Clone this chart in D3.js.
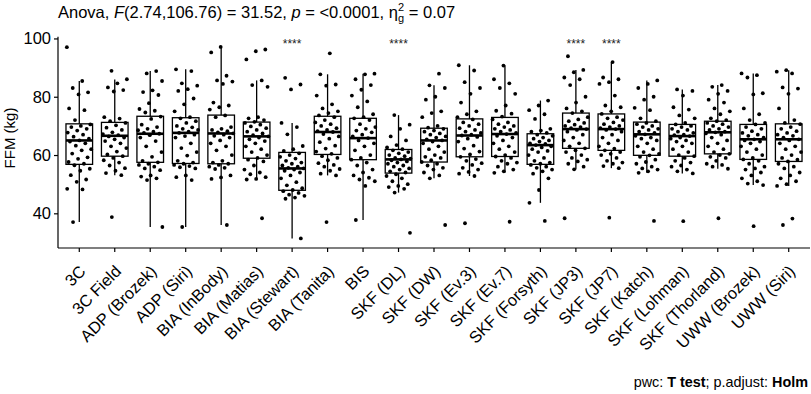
<!DOCTYPE html>
<html>
<head>
<meta charset="utf-8">
<script src="https://d3js.org/d3.v7.min.js"></script>
<style>
  body { margin: 0; background: #fff; }
  svg text { font-family: "Liberation Sans", Arial, Helvetica, sans-serif; }
</style>
</head>
<body>
<svg id="chart" width="811" height="394"></svg>
<script>
// methods on the x axis
const methods = ["3C", "3C Field", "ADP (Brozek)", "ADP (Siri)", "BIA (InBody)", "BIA (Matias)",
  "BIA (Stewart)", "BIA (Tanita)", "BIS", "SKF (DL)", "SKF (DW)", "SKF (Ev.3)", "SKF (Ev.7)",
  "SKF (Forsyth)", "SKF (JP3)", "SKF (JP7)", "SKF (Katch)", "SKF (Lohman)", "SKF (Thorland)",
  "UWW (Brozek)", "UWW (Siri)"];

// box stats (kg)
const q1s      = [56.8, 59.6, 57.5, 57.1, 57.0, 58.9, 47.9, 60.2, 58.4, 53.8, 57.6, 59.4, 59.5, 56.8, 62.3, 61.6, 59.9, 59.6, 60.4, 58.5, 57.8];
const medians  = [65.0, 66.6, 67.3, 67.6, 67.4, 66.4, 55.4, 67.9, 65.8, 58.5, 65.0, 66.7, 67.2, 63.4, 68.9, 68.9, 67.1, 66.5, 67.8, 65.4, 65.4];
const q3s      = [70.7, 71.2, 73.3, 72.8, 73.7, 71.3, 60.9, 73.3, 72.6, 61.9, 69.2, 72.4, 72.9, 67.3, 74.4, 74.1, 71.3, 70.5, 71.6, 70.5, 70.7];
const whiskLo  = [37.0, 53.1, 35.3, 35.3, 36.0, 51.6, 31.4, 53.0, 37.7, 47.1, 52.0, 52.8, 53.9, 43.6, 55.1, 55.5, 53.9, 53.7, 55.3, 49.7, 49.4];
const whiskHi  = [85.4, 85.9, 88.8, 89.4, 97.1, 85.6, 71.0, 87.7, 87.9, 73.7, 83.9, 90.8, 90.7, 78.7, 89.2, 91.9, 85.6, 82.5, 84.0, 88.0, 89.1];

// individual FFM values per method
const points = [
  [97, 85.4, 83.0, 81.5, 80.8, 76.0, 75.4, 72.0, 70.5, 70.0, 69.6, 69.0, 68.4, 67.7, 67.0, 66.3, 65.6, 65.0, 64.6, 64.0, 63.2, 62.0, 61.6, 60.5, 59.2, 58.7, 57.6, 57.0, 56.5, 55.3, 54.6, 53.1, 51.6, 50.8, 48.4, 48.2, 37.0],
  [88.9, 86.0, 84.6, 83.2, 82.3, 81.8, 73.0, 72.5, 71.6, 71.0, 70.2, 69.4, 68.6, 67.8, 67.2, 66.8, 66.4, 66.0, 65.4, 64.8, 64.0, 63.0, 62.4, 61.2, 60.2, 59.6, 59.0, 58.2, 57.4, 56.4, 55.5, 54.6, 53.8, 53.1, 38.7],
  [88.8, 88.0, 85.4, 82.2, 81.6, 80.6, 77.8, 75.8, 75.2, 74.6, 73.2, 72.4, 70.4, 69.6, 69.0, 68.5, 68.0, 67.6, 67.3, 66.8, 66.0, 64.8, 63.0, 61.0, 59.4, 58.0, 57.5, 57.0, 56.6, 56.0, 55.4, 54.8, 53.0, 52.6, 52.0, 51.4, 35.3],
  [89.4, 88.8, 84.6, 83.8, 82.6, 82.0, 79.4, 77.4, 75.0, 73.0, 72.6, 71.6, 71.0, 70.0, 69.5, 69.0, 68.6, 68.0, 67.6, 67.0, 66.5, 66.0, 64.0, 62.4, 61.0, 59.8, 58.0, 57.4, 57.0, 56.6, 56.2, 55.8, 55.4, 53.0, 52.4, 51.4, 35.3],
  [97.1, 95.2, 87.2, 85.6, 85.2, 84.4, 78.0, 77.0, 76.4, 75.6, 73.6, 73.0, 69.6, 69.0, 68.6, 68.2, 67.8, 67.4, 67.0, 66.6, 66.0, 65.0, 64.0, 63.0, 61.6, 60.0, 58.0, 57.4, 57.0, 56.6, 56.0, 55.6, 55.2, 53.0, 52.3, 51.8, 36.0],
  [96.2, 95.6, 92.8, 85.6, 84.0, 83.4, 73.0, 72.6, 72.0, 71.4, 71.0, 70.4, 69.8, 69.2, 68.6, 68.0, 67.4, 66.8, 66.4, 66.0, 65.4, 64.8, 64.0, 63.0, 62.0, 61.0, 60.0, 59.0, 58.4, 57.8, 56.4, 55.0, 54.0, 53.4, 52.4, 51.8, 51.6, 38.3],
  [86.5, 84.2, 82.5, 71.0, 69.6, 67.1, 63.1, 62.0, 61.4, 60.6, 60.0, 59.4, 58.8, 58.0, 57.4, 57.0, 56.4, 56.0, 55.6, 55.4, 55.0, 54.6, 54.0, 53.0, 52.0, 50.7, 49.6, 48.6, 48.0, 47.6, 47.0, 46.4, 46.0, 45.4, 45.0, 31.4],
  [94.9, 87.7, 84.2, 83.8, 80.4, 77.4, 76.0, 75.0, 74.4, 73.6, 73.0, 72.0, 71.2, 70.6, 70.0, 69.2, 68.6, 68.2, 67.9, 67.2, 66.4, 65.6, 64.4, 63.2, 62.2, 61.2, 60.4, 59.6, 59.0, 58.2, 57.2, 56.6, 56.0, 55.2, 54.6, 53.6, 53.0, 37.0],
  [87.9, 87.7, 86.0, 84.0, 82.4, 80.4, 78.4, 76.4, 74.0, 73.0, 72.6, 72.0, 70.6, 69.6, 69.0, 68.4, 67.8, 67.0, 66.4, 65.8, 65.0, 64.0, 63.0, 61.6, 60.0, 59.0, 58.4, 57.4, 56.4, 55.0, 54.0, 53.0, 52.2, 51.6, 51.0, 49.4, 37.7],
  [73.7, 70.4, 69.0, 66.4, 65.0, 63.4, 62.6, 62.0, 61.6, 61.0, 60.6, 60.0, 59.6, 59.0, 58.8, 58.5, 58.2, 57.8, 57.4, 57.0, 56.4, 56.0, 55.4, 55.0, 54.4, 54.0, 53.4, 52.8, 52.0, 51.0, 50.0, 49.4, 49.0, 48.4, 47.1, 33.3],
  [87.9, 83.9, 83.0, 80.0, 79.0, 75.0, 74.4, 73.0, 70.0, 69.4, 69.0, 68.4, 68.0, 67.4, 67.0, 66.4, 66.0, 65.4, 65.0, 64.6, 64.0, 63.0, 62.0, 61.0, 60.0, 59.4, 59.0, 58.2, 57.6, 57.0, 56.4, 55.6, 55.0, 54.0, 53.0, 52.0, 36.0],
  [90.8, 89.0, 85.0, 83.0, 81.0, 78.0, 75.0, 74.0, 73.0, 72.2, 71.2, 70.6, 70.0, 69.2, 68.6, 68.0, 67.6, 67.0, 66.7, 66.2, 65.6, 64.6, 63.2, 62.2, 61.2, 60.2, 59.4, 58.6, 58.0, 57.2, 56.6, 55.6, 55.0, 54.2, 53.6, 52.8, 36.6],
  [90.7, 86.0, 84.6, 83.0, 81.0, 77.0, 75.2, 74.2, 73.2, 72.2, 71.2, 70.6, 70.0, 69.6, 69.0, 68.6, 68.0, 67.6, 67.2, 66.6, 66.0, 65.0, 64.0, 63.0, 62.0, 61.0, 60.0, 59.5, 59.0, 58.0, 57.4, 57.0, 56.0, 55.0, 54.4, 53.9, 37.1],
  [78.7, 77.0, 75.4, 74.0, 72.4, 69.0, 68.4, 68.0, 67.6, 67.0, 66.6, 66.0, 65.6, 65.0, 64.6, 64.0, 63.8, 63.4, 63.0, 62.6, 62.0, 61.4, 61.0, 60.0, 59.0, 58.0, 57.4, 57.0, 56.6, 56.0, 55.6, 55.0, 54.4, 53.6, 52.0, 48.0, 43.6, 37.4],
  [93.9, 89.2, 88.4, 86.6, 86.0, 84.0, 80.0, 78.0, 76.0, 75.0, 74.4, 73.0, 72.2, 71.6, 71.0, 70.4, 70.0, 69.6, 69.2, 68.9, 68.6, 68.0, 67.0, 66.0, 65.0, 64.0, 63.0, 62.3, 61.6, 61.0, 60.0, 59.0, 58.4, 57.8, 57.0, 56.0, 55.1, 38.3],
  [91.9, 86.6, 86.0, 85.0, 84.4, 80.4, 77.0, 76.4, 75.0, 74.1, 73.0, 72.6, 72.0, 71.2, 70.6, 70.0, 69.6, 69.2, 68.9, 68.6, 68.0, 67.0, 66.0, 65.0, 64.0, 63.0, 62.2, 61.6, 61.0, 60.4, 60.0, 59.0, 58.0, 57.4, 57.0, 56.2, 55.5, 38.5],
  [85.6, 84.4, 83.0, 80.0, 79.0, 76.2, 75.4, 72.6, 71.6, 71.0, 70.6, 70.0, 69.6, 69.0, 68.6, 68.0, 67.6, 67.1, 66.6, 66.0, 65.6, 65.0, 64.0, 63.0, 62.0, 61.0, 60.4, 59.9, 59.4, 58.4, 57.6, 57.0, 56.0, 55.4, 55.0, 54.4, 53.9, 37.4],
  [82.5, 82.0, 80.4, 76.4, 75.6, 73.6, 72.6, 71.0, 70.5, 70.0, 69.6, 69.0, 68.6, 68.0, 67.6, 67.0, 66.8, 66.5, 66.0, 65.6, 65.0, 64.6, 64.0, 63.0, 62.0, 61.0, 60.0, 59.6, 59.0, 58.0, 57.4, 56.4, 56.0, 55.0, 54.4, 53.7, 37.3],
  [84.0, 83.4, 82.0, 81.0, 79.0, 78.0, 76.0, 75.0, 74.0, 72.6, 72.0, 71.6, 71.0, 70.6, 70.0, 69.6, 69.0, 68.6, 68.0, 67.8, 67.4, 67.0, 66.0, 65.0, 64.0, 63.0, 62.0, 61.0, 60.4, 60.0, 59.4, 59.0, 58.0, 57.0, 56.6, 56.0, 55.3, 38.3],
  [88.0, 87.4, 86.6, 81.2, 80.8, 76.0, 74.0, 72.0, 71.0, 70.5, 69.6, 69.0, 68.2, 67.6, 67.0, 66.6, 66.0, 65.4, 65.0, 64.6, 64.0, 63.0, 62.0, 61.0, 60.0, 59.0, 58.5, 58.0, 57.0, 56.0, 55.4, 55.0, 54.0, 53.0, 52.0, 51.0, 50.2, 49.7, 35.6],
  [89.1, 88.6, 88.0, 83.2, 82.8, 81.0, 76.0, 72.0, 71.0, 70.6, 69.6, 69.0, 68.2, 67.6, 67.0, 66.6, 66.0, 65.4, 65.0, 64.0, 63.0, 62.0, 61.0, 60.0, 59.0, 58.4, 57.8, 57.0, 56.0, 55.4, 54.0, 53.0, 52.0, 51.0, 50.0, 49.4, 38.2, 36.0]
];

// significance labels (vs reference)
const sigLabels = ["", "", "", "", "", "", "****", "", "", "****", "", "", "", "", "****", "****", "", "", "", "", ""];
const sigY = 98.2;

const yTicks = [40, 60, 80, 100];

const svg = d3.select("#chart");
const mLeft = 58, mRight = 810, mTop = 36.7, mBottom = 248;

// discrete axis with 0.6 step expansion on each side, like ggplot
const x = d3.scalePoint().domain(methods)
  .range([mLeft, mRight]).padding(0.6);
const step = x.step();
const y = d3.scaleLinear().domain([28.1, 100.6]).range([mBottom, mTop]);

const bw = step * 0.75;

// boxes
const g = svg.append("g");
methods.forEach((m, i) => {
  const cx = x(m);
  g.append("line").attr("x1", cx).attr("x2", cx)
    .attr("y1", y(whiskLo[i])).attr("y2", y(whiskHi[i]))
    .attr("stroke", "#000").attr("stroke-width", 1.3);
  g.append("rect").attr("x", cx - bw / 2).attr("width", bw)
    .attr("y", y(q3s[i])).attr("height", y(q1s[i]) - y(q3s[i]))
    .attr("fill", "#fff").attr("stroke", "#000").attr("stroke-width", 1.3);
  g.append("line").attr("x1", cx - bw / 2).attr("x2", cx + bw / 2)
    .attr("y1", y(medians[i])).attr("y2", y(medians[i]))
    .attr("stroke", "#000").attr("stroke-width", 2.6);
});

// jittered points (fixed, evenly spread offsets)
methods.forEach((m, i) => {
  const cx = x(m);
  g.selectAll(null).data(points[i]).enter().append("circle")
    .attr("cx", (d, j) => cx + (((j * 0.618034 + i * 0.37) % 1) - 0.5) * 0.7 * step)
    .attr("cy", d => y(d))
    .attr("r", 1.9)
    .attr("fill", "#000");
});

// significance stars
svg.selectAll(".sig").data(methods).enter().append("text")
  .attr("x", d => x(d)).attr("y", y(sigY) + 4.5)
  .attr("text-anchor", "middle").attr("font-size", 12).attr("fill", "#222")
  .text((d, i) => sigLabels[i]);

// axes
const yAxis = svg.append("g").attr("transform", `translate(${mLeft},0)`)
  .call(d3.axisLeft(y).tickValues(yTicks).tickSize(4).tickSizeOuter(0));
yAxis.select(".domain").attr("d", `M0,${mTop}V${mBottom}`).attr("stroke", "#000").attr("stroke-width", 1.2);
yAxis.selectAll(".tick line").attr("stroke", "#000").attr("stroke-width", 1.2);
yAxis.selectAll(".tick text").attr("font-size", 16.5).attr("fill", "#000").attr("x", -7)
  .attr("font-family", "Liberation Sans, Arial, sans-serif");

const xAxisG = svg.append("g").attr("transform", `translate(0,${mBottom})`);
xAxisG.append("line").attr("x1", mLeft).attr("x2", mRight).attr("stroke", "#000").attr("stroke-width", 1.2);
xAxisG.selectAll(".xt").data(methods).enter().append("line")
  .attr("x1", d => x(d)).attr("x2", d => x(d)).attr("y1", 0).attr("y2", 4)
  .attr("stroke", "#000").attr("stroke-width", 1.2);
xAxisG.selectAll(".xl").data(methods).enter().append("text")
  .attr("transform", d => `translate(${x(d) - 1},16) rotate(-45)`)
  .attr("text-anchor", "end").attr("dy", "0.72em")
  .attr("font-size", 16.4).attr("fill", "#000")
  .text(d => d);

// axis title
svg.append("text").attr("transform", `translate(15,138) rotate(-90)`)
  .attr("text-anchor", "middle").attr("font-size", 15).attr("fill", "#000")
  .text("FFM (kg)");

// subtitle with test result
const t = svg.append("text").attr("x", mLeft).attr("y", 17.5).attr("font-size", 16.5).attr("fill", "#000");
t.append("tspan").text("Anova, ");
t.append("tspan").attr("font-style", "italic").text("F");
t.append("tspan").text("(2.74,106.76) = 31.52, ");
t.append("tspan").attr("font-style", "italic").text("p");
t.append("tspan").text(" = <0.0001, η");
t.append("tspan").attr("font-size", 11).attr("dy", 4).text("g");
t.append("tspan").attr("font-size", 11).attr("dx", -6).attr("dy", -11).text("2");
t.append("tspan").attr("dy", 7).text(" = 0.07");

// caption
const c = svg.append("text").attr("x", 808).attr("y", 387).attr("text-anchor", "end")
  .attr("font-size", 14.4).attr("fill", "#000");
c.append("tspan").text("pwc: ");
c.append("tspan").attr("font-weight", "bold").text("T test");
c.append("tspan").text("; p.adjust: ");
c.append("tspan").attr("font-weight", "bold").text("Holm");
</script>
</body>
</html>
